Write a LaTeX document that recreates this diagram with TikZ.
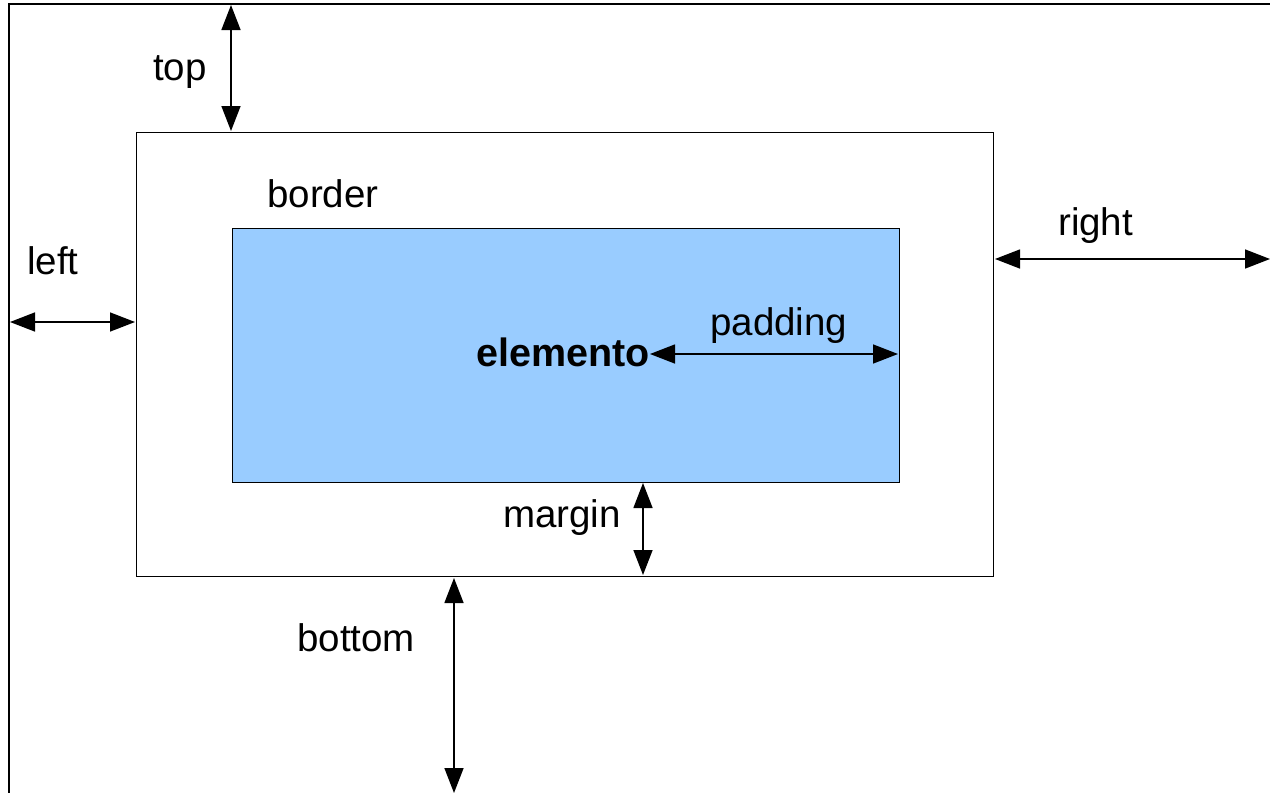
\documentclass[tikz,border=0pt]{standalone}
\usepackage{fontspec}
\setmainfont{Liberation Sans}
\usetikzlibrary{arrows.meta}
\definecolor{elemblue}{HTML}{99CCFF}
\begin{document}
\begin{tikzpicture}[x=1pt,y=-1pt,
  lbl/.style={font=\fontsize{38.5}{44}\selectfont, inner sep=0pt, anchor=base west},
  dim/.style={line width=1.5pt, {Triangle[length=25pt,width=19pt]}-{Triangle[length=25pt,width=19pt]}},
  boxline/.style={line width=1.4pt}]
\useasboundingbox (0,0) rectangle (1270,793);
\fill[white] (0,0) rectangle (1270,793);
% outer frame (parent)
\coordinate (oTL) at (9,4);
\draw[boxline] (9,800) -- (oTL) -- (1275,4);
% border box
\node[boxline, draw, minimum width=857pt, minimum height=444pt, inner sep=0pt, anchor=north west] (border) at (136,132) {};
% content box
\node[boxline, draw, fill=elemblue, minimum width=667pt, minimum height=254pt, inner sep=0pt, anchor=north west] (content) at (232,228) {};
% labels
\node[lbl] (ltop) at (153,80) {top};
\node[lbl] (lleft) at (27,274) {left};
\node[lbl] (lright) at (1058,235) {right};
\node[lbl] (lbottom) at (297,651) {bottom};
\node[lbl] (lborder) at (267,207) {border};
\node[lbl] (lmargin) at (503,527) {margin};
\node[lbl] (lpadding) at (710,335) {padding};
\node[lbl, font=\fontsize{39.5}{44}\selectfont\bfseries, anchor=base east] (elem) at (650,366) {elemento};
% arrow end coordinates
\coordinate (topA) at (231,5);
\coordinate (topB) at (231,131);
\coordinate (leftA) at (10,322);
\coordinate (leftB) at (135,322);
\coordinate (rightA) at (995,259);
\coordinate (rightB) at (1270,259);
\coordinate (botA) at (454,578);
\coordinate (botB) at (454,793);
\coordinate (marA) at (643,483);
\coordinate (marB) at (643,575);
\coordinate (padB) at (898,354);
% dimension arrows
\draw[dim] (topA) -- (topB);
\draw[dim] (leftA) -- (leftB);
\draw[dim] (rightA) -- (rightB);
\draw[dim] (botA) -- (botB);
\draw[dim] (marA) -- (marB);
\draw[dim] (elem.east |- padB) -- (padB);
\end{tikzpicture}
\end{document}
